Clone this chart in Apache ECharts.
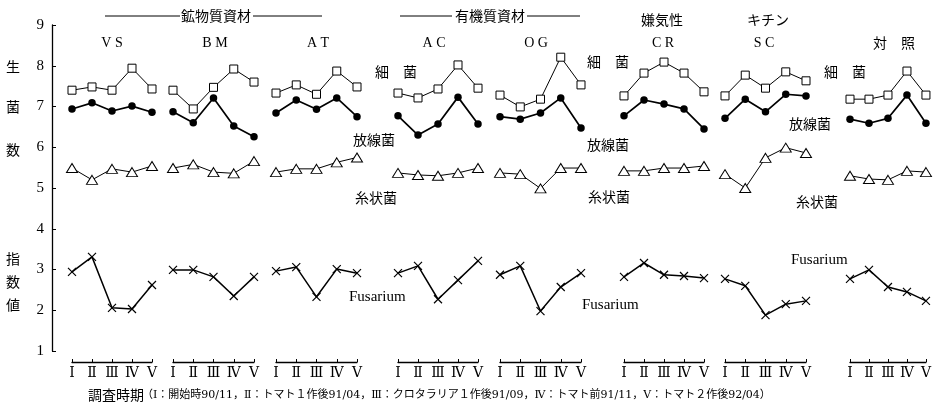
<!DOCTYPE html>
<html><head><meta charset="utf-8">
<script src="https://cdn.jsdelivr.net/npm/echarts@6/dist/echarts.min.js"></script>
<style>html,body{margin:0;padding:0;background:#fff}#c{width:934px;height:410px}</style>
</head><body><div id="c"></div>
<script>
// ---- data ----
const periods = ['Ⅰ','Ⅱ','Ⅲ','Ⅳ','Ⅴ'];
const panels = ['V S','B M','A T','A C','O G','C R','S C','対　照'];
const yTicks = [1,9,1]; // min, max, interval
// 細菌
const bacteria = [
  [7.40,7.48,7.40,7.94,7.43],
  [7.40,6.94,7.47,7.92,7.60],
  [7.33,7.53,7.30,7.87,7.48],
  [7.33,7.21,7.43,8.02,7.45],
  [7.28,6.99,7.18,8.21,7.53],
  [7.26,7.82,8.09,7.82,7.36],
  [7.26,7.77,7.45,7.85,7.63],
  [7.18,7.18,7.28,7.87,7.28]
];
// 放線菌
const actino = [
  [6.94,7.09,6.89,7.01,6.86],
  [6.87,6.60,7.21,6.52,6.26],
  [6.84,7.16,6.93,7.21,6.75],
  [6.77,6.30,6.57,7.23,6.57],
  [6.75,6.69,6.84,7.21,6.47],
  [6.77,7.16,7.06,6.94,6.45],
  [6.71,7.18,6.87,7.30,7.26],
  [6.69,6.59,6.71,7.28,6.59]
];
// 糸状菌
const fungi = [
  [5.49,5.20,5.47,5.39,5.54],
  [5.49,5.58,5.39,5.36,5.66],
  [5.39,5.47,5.47,5.63,5.75],
  [5.37,5.32,5.30,5.37,5.49],
  [5.37,5.34,4.99,5.49,5.49],
  [5.42,5.42,5.49,5.49,5.54],
  [5.34,5.00,5.74,5.99,5.86],
  [5.30,5.22,5.20,5.42,5.39]
];
// Fusarium
const fusarium = [
  [2.94,3.31,2.06,2.03,2.62],
  [2.99,2.99,2.82,2.35,2.82],
  [2.96,3.06,2.33,3.01,2.91],
  [2.91,3.09,2.27,2.74,3.21],
  [2.87,3.09,1.98,2.57,2.91],
  [2.82,3.16,2.87,2.84,2.79],
  [2.77,2.60,1.88,2.15,2.23],
  [2.77,2.99,2.57,2.45,2.23]
];

// ---- layout ----
const panelLeft = [72,173,276,398,500,624,725,850];
const panelWidth = [80,81,81,80,81,80,81,79];
const JP = '"Noto Sans CJK JP"';
const SERIF = '"Liberation Serif","DejaVu Serif",serif';
const SQUARE = 'path://M0,0L10,0L10,10L0,10Z';
const TRIANGLE = 'path://M5,0L10,9L0,9Z';
const CROSS = 'path://M0,0L10,10M10,0L0,10';

const grids = [], xAxes = [], yAxes = [], series = [];
panels.forEach((p, i) => {
  grids.push({left: panelLeft[i], width: panelWidth[i], top: 25, height: 326});
  xAxes.push({
    type: 'category', gridIndex: i, data: periods, boundaryGap: false, offset: 11,
    axisLine: {show: true, lineStyle: {color: '#000', width: 1.3}},
    axisTick: {show: true, inside: true, length: 3, lineStyle: {color: '#000', width: 1}},
    axisLabel: {interval: 0, color: '#000', fontFamily: '"DejaVu Serif","Liberation Serif",serif', fontSize: 14, margin: 4},
    splitLine: {show: false}
  });
  yAxes.push({
    type: 'value', gridIndex: i, min: yTicks[0], max: yTicks[1], interval: yTicks[2],
    show: i === 0, position: 'left', offset: 20,
    axisLine: {show: true, lineStyle: {color: '#000', width: 1.3}},
    axisTick: {show: true, inside: true, length: 4, lineStyle: {color: '#000', width: 1}},
    axisLabel: {color: '#000', fontFamily: SERIF, fontSize: 15, margin: 8},
    splitLine: {show: false}
  });
  const base = {type: 'line', xAxisIndex: i, yAxisIndex: i, clip: false, silent: true, animation: false, emphasis: {disabled: true}, z: 3};
  series.push(Object.assign({}, base, {
    name: '細菌', data: bacteria[i], symbol: SQUARE, symbolSize: 8,
    lineStyle: {color: '#000', width: 1},
    itemStyle: {color: '#fff', borderColor: '#000', borderWidth: 1}
  }));
  series.push(Object.assign({}, base, {
    name: '放線菌', data: actino[i], symbol: 'circle', symbolSize: 7.5,
    lineStyle: {color: '#000', width: 1.7},
    itemStyle: {color: '#000'}
  }));
  series.push(Object.assign({}, base, {
    name: '糸状菌', data: fungi[i], symbol: TRIANGLE, symbolSize: [11, 9],
    lineStyle: {color: '#000', width: 1},
    itemStyle: {color: '#fff', borderColor: '#000', borderWidth: 1}
  }));
  series.push(Object.assign({}, base, {
    name: 'Fusarium', data: fusarium[i], symbol: CROSS, symbolSize: 8,
    lineStyle: {color: '#000', width: 1.5},
    itemStyle: {color: 'none', borderColor: '#000', borderWidth: 1.2}
  }));
});

function txt(text, x, y, font, align) {
  return {type: 'text', x: x, y: y, silent: true,
    style: {text: text, font: font, fill: '#000', textAlign: align || 'center', textVerticalAlign: 'middle'}};
}
function ln(x1, y1, x2, y2) {
  return {type: 'line', silent: true, shape: {x1: x1, y1: y1, x2: x2, y2: y2}, style: {stroke: '#000', lineWidth: 1}};
}
const titleX = [112, 215, 318, 434, 536, 663, 764, 894];
const graphics = [];
panels.forEach((p, i) => graphics.push(txt(p, titleX[i], 43, '14px ' + (i === 7 ? JP : SERIF))));
graphics.push(ln(105, 16, 180, 16), ln(253, 16, 322, 16), txt('鉱物質資材', 216, 16, '14px ' + JP));
graphics.push(ln(400, 16, 452, 16), ln(527, 16, 580, 16), txt('有機質資材', 490, 16, '14px ' + JP));
graphics.push(txt('嫌気性', 662, 20, '14px ' + JP), txt('キチン', 768, 20, '14px ' + JP));
// left axis names
[['生', 67], ['菌', 107], ['数', 150], ['指', 259], ['数', 282], ['値', 305]].forEach(a => graphics.push(txt(a[0], 13, a[1], '14px ' + JP)));
// in-plot labels
graphics.push(
  txt('細　菌', 375, 72, '14px ' + JP, 'left'),
  txt('放線菌', 353, 140, '14px ' + JP, 'left'),
  txt('糸状菌', 355, 198, '14px ' + JP, 'left'),
  txt('Fusarium', 349, 297, '15px ' + SERIF, 'left'),
  txt('細　菌', 587, 62, '14px ' + JP, 'left'),
  txt('放線菌', 587, 145, '14px ' + JP, 'left'),
  txt('糸状菌', 588, 197, '14px ' + JP, 'left'),
  txt('Fusarium', 582, 305, '15px ' + SERIF, 'left'),
  txt('細　菌', 824, 72, '14px ' + JP, 'left'),
  txt('放線菌', 789, 124, '14px ' + JP, 'left'),
  txt('糸状菌', 796, 202, '14px ' + JP, 'left'),
  txt('Fusarium', 791, 260, '15px ' + SERIF, 'left')
);
graphics.push(txt('調査時期', 88, 395, '14px ' + JP, 'left'));
graphics.push(txt('（Ⅰ：開始時90/11，Ⅱ：トマト１作後91/04，Ⅲ：クロタラリア１作後91/09，Ⅳ：トマト前91/11，Ⅴ：トマト２作後92/04）', 142, 395, '11px "DejaVu Serif","Noto Sans CJK JP"', 'left'));

const chart = echarts.init(document.getElementById('c'), null, {renderer: 'canvas'});
chart.setOption({
  backgroundColor: '#fff',
  animation: false,
  grid: grids, xAxis: xAxes, yAxis: yAxes, series: series,
  graphic: graphics
});
</script></body></html>
